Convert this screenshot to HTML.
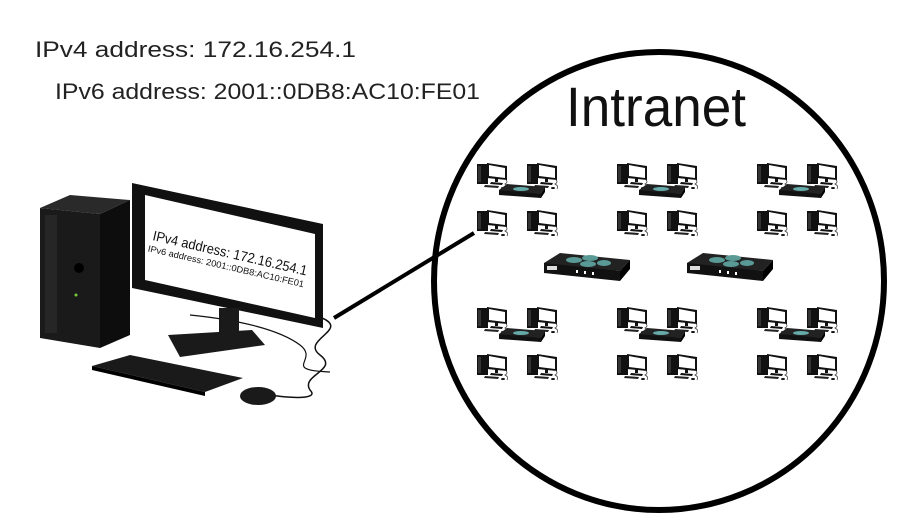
<!DOCTYPE html>
<html><head><meta charset="utf-8"><style>
html,body{margin:0;padding:0;background:#fff;}
svg{display:block;font-family:"Liberation Sans",sans-serif;}
</style></head><body>
<svg width="900" height="520" viewBox="0 0 900 520" xmlns="http://www.w3.org/2000/svg">
<defs>
<g id="pc">
  <rect x="0" y="2" width="11" height="20" fill="#111"/>
  <rect x="1" y="4" width="3" height="16" fill="#333"/>
  <polygon points="10,1 30,4 30,18 10,16" fill="#111"/>
  <polygon points="12,3 28,6 28,16 12,14" fill="#fff"/>
  <rect x="18" y="16" width="3" height="4" fill="#111"/>
  <polygon points="14,20 26,21 25,23 13,22" fill="#111"/>
  <polygon points="8,23 22,24 21,26 7,25" fill="#222"/>
  <path d="M28,17 q4,3 0,5 q4,2 2,5" stroke="#333" fill="none" stroke-width="0.7"/>
  <ellipse cx="26" cy="26" rx="2" ry="1" fill="#111"/>
</g>
<g id="sw">
  <polygon points="0,6 8,0 46,3 42,10 0,9" fill="#222"/>
  <polygon points="0,6 42,10 42,14 0,11" fill="#111"/>
  <polygon points="42,10 46,3 46,8 42,14" fill="#000"/>
  <ellipse cx="22" cy="5" rx="8" ry="2" fill="#6aa"/>
</g>
<g id="rt">
  <polygon points="0,10 16,0 86,7 76,18 0,13" fill="#222"/>
  <polygon points="0,10 76,18 76,28 0,20" fill="#111"/>
  <polygon points="76,18 86,7 86,16 76,28" fill="#000"/>
  <ellipse cx="30" cy="7" rx="8" ry="3" fill="#5a9a96"/>
  <ellipse cx="46" cy="5" rx="8" ry="3" fill="#5a9a96"/>
  <ellipse cx="44" cy="11" rx="8" ry="3" fill="#5a9a96"/>
  <ellipse cx="60" cy="10" rx="7" ry="3" fill="#5a9a96"/>
  <rect x="3" y="13" width="10" height="4" fill="#ddd"/>
  <rect x="32" y="17" width="2" height="3" fill="#fff"/>
  <rect x="40" y="18" width="2" height="3" fill="#fff"/>
  <rect x="48" y="19" width="2" height="3" fill="#fff"/>
</g>
<g id="cluster">
  <use href="#pc" x="0" y="0"/>
  <use href="#pc" x="50" y="0"/>
  <use href="#sw" x="22" y="22"/>
  <use href="#pc" x="0" y="47"/>
  <use href="#pc" x="50" y="47"/>
</g>
</defs>

<text x="35" y="57" font-size="22" fill="#222" textLength="321" lengthAdjust="spacingAndGlyphs">IPv4 address: 172.16.254.1</text>
<text x="55" y="99" font-size="22" fill="#222" textLength="425" lengthAdjust="spacingAndGlyphs">IPv6 address: 2001::0DB8:AC10:FE01</text>

<ellipse cx="659" cy="281" rx="225" ry="229" fill="none" stroke="#000" stroke-width="6"/>
<text x="566" y="126" font-size="56" fill="#111" textLength="180" lengthAdjust="spacingAndGlyphs">Intranet</text>

<use href="#cluster" x="477" y="162"/>
<use href="#cluster" x="617" y="162"/>
<use href="#cluster" x="757" y="162"/>
<use href="#cluster" x="477" y="306"/>
<use href="#cluster" x="617" y="306"/>
<use href="#cluster" x="757" y="306"/>
<use href="#rt" x="544" y="253"/>
<use href="#rt" x="687" y="253"/>

<line x1="334" y1="318" x2="474" y2="233" stroke="#000" stroke-width="4"/>

<!-- tower -->
<polygon points="40,208 70,195 130,200 100,214" fill="#2a2a2a"/>
<polygon points="40,208 100,214 100,348 40,338" fill="#1a1a1a"/>
<polygon points="100,214 130,200 130,335 100,348" fill="#0d0d0d"/>
<rect x="45" y="215" width="12" height="118" fill="#262626"/>
<circle cx="79" cy="268" r="5" fill="#000"/>
<circle cx="76" cy="295" r="1.5" fill="#7c3"/>
<!-- cables -->
<path d="M322,318 C350,330 300,340 320,355 C340,370 300,375 310,390 C320,400 290,398 270,395" fill="none" stroke="#111" stroke-width="1.5"/>
<path d="M190,315 C240,320 280,330 300,345 C320,360 280,370 330,372" fill="none" stroke="#111" stroke-width="1.2"/>
<!-- monitor -->
<polygon points="132,183 323,224 323,328 132,288" fill="#111"/>
<polygon points="145,195 315,234 315,318 145,280" fill="#fff"/>
<rect x="219" y="308" width="20" height="30" fill="#1a1a1a"/>
<polygon points="168,335 252,330 265,345 180,357" fill="#1a1a1a"/>
<g transform="translate(152,240) rotate(13)">
  <text x="0" y="0" font-size="14" fill="#111" textLength="158" lengthAdjust="spacingAndGlyphs">IPv4 address: 172.16.254.1</text>
  <text x="-2" y="12" font-size="9" fill="#111" textLength="160" lengthAdjust="spacingAndGlyphs">IPv6 address: 2001::0DB8:AC10:FE01</text>
</g>
<!-- keyboard -->
<polygon points="92,366 130,355 243,378 205,392" fill="#1a1a1a"/>
<polygon points="92,366 205,392 205,396 92,370" fill="#000"/>
<!-- mouse -->
<ellipse cx="258" cy="396" rx="18" ry="9" fill="#1a1a1a"/>
</svg>
</body></html>
